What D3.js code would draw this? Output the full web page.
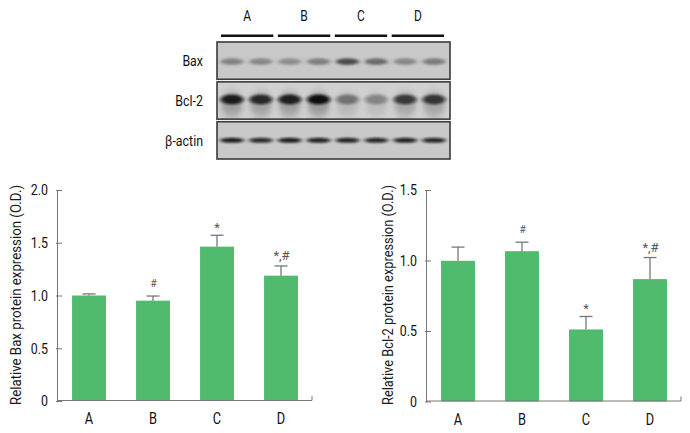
<!DOCTYPE html>
<html><head><meta charset="utf-8">
<script src="https://cdn.jsdelivr.net/npm/d3@7"></script>
<style>
html,body{margin:0;padding:0;background:#fff;}
svg text{font-family:Roboto,"Liberation Sans",sans-serif;}
</style></head>
<body>
<svg id="chart" width="690" height="433"></svg>
<script>
// ---- data ----
const groups = ["A", "B", "C", "D"];
const baxValues = [1.0, 0.951, 1.463, 1.188];
const baxErrors = [0.015, 0.044, 0.108, 0.092];
const baxMarks = ["", "#", "*", "*,#"];
const bcl2Values = [0.998, 1.066, 0.511, 0.868];
const bcl2Errors = [0.097, 0.064, 0.092, 0.153];
const bcl2Marks = ["", "#", "*", "*,#"];
const baxTicks = [0, 0.5, 1.0, 1.5, 2.0];
const bcl2Ticks = [0, 0.5, 1.0, 1.5];
const baxTitle = "Relative Bax protein expression (O.D.)";
const bcl2Title = "Relative Bcl-2 protein expression (O.D.)";
// western blot: lane band intensities (0..1)
const blotRows = ["Bax", "Bcl-2", "β-actin"];
const lanes = [0, 1, 2, 3, 4, 5, 6, 7];
const baxBands = [0.42, 0.4, 0.36, 0.46, 0.78, 0.58, 0.4, 0.48];
const bcl2Bands = [0.9, 0.82, 0.88, 0.98, 0.42, 0.32, 0.72, 0.75];
const actinBands = [0.9, 0.84, 0.9, 0.88, 0.87, 0.86, 0.88, 0.86];

const COND = 0.8; // horizontal condensing of the font
function condense(sel, k) {
  sel.each(function() {
    const len = this.getComputedTextLength();
    if (len > 0) d3.select(this).attr("textLength", len * (k || COND)).attr("lengthAdjust", "spacingAndGlyphs");
  });
}

const svg = d3.select("#chart");
const defs = svg.append("defs");
const f = defs.append("filter").attr("id","blur").attr("x","-50%").attr("y","-100%").attr("width","200%").attr("height","300%");
f.append("feGaussianBlur").attr("stdDeviation","2.2 1.3");
const f2 = defs.append("filter").attr("id","blur2").attr("x","-50%").attr("y","-100%").attr("width","200%").attr("height","300%");
f2.append("feGaussianBlur").attr("stdDeviation","2.5 4");

// ---- blot ----
const laneX = d3.scalePoint().domain(lanes).range([232, 434]);
const groupX = d3.scaleBand().domain(groups).range([221, 444]).paddingInner(0.08);
const rowY = d3.scaleBand().domain(blotRows).range([42, 159]).paddingInner(0.065);
const panelX0 = 217, panelX1 = 450;

svg.selectAll("text.grp").data(groups).join("text").attr("class","grp")
  .attr("x", d => groupX(d) + groupX.bandwidth()/2).attr("y", 20.5)
  .attr("text-anchor","middle").attr("font-size", 15).attr("fill","#111").text(d => d)
  .call(condense);
svg.selectAll("line.grp").data(groups).join("line").attr("class","grp")
  .attr("x1", d => groupX(d)).attr("x2", d => groupX(d) + groupX.bandwidth())
  .attr("y1", 35.7).attr("y2", 35.7).attr("stroke","#111").attr("stroke-width", 2.5);

const bandData = {"Bax": baxBands, "Bcl-2": bcl2Bands, "β-actin": actinBands};
blotRows.forEach(r => {
  const y0 = rowY(r), h = rowY.bandwidth();
  const g = svg.append("g");
  const clipId = "clip" + blotRows.indexOf(r);
  defs.append("clipPath").attr("id", clipId).append("rect")
    .attr("x", panelX0).attr("y", y0).attr("width", panelX1 - panelX0).attr("height", h);
  g.append("rect").attr("x", panelX0).attr("y", y0).attr("width", panelX1 - panelX0).attr("height", h)
    .attr("fill", r === "Bcl-2" ? "#d0d0d0" : "#c8c8c8");
  const gb = g.append("g").attr("clip-path", `url(#${clipId})`);
  const cy = y0 + h/2;
  bandData[r].forEach((v, i) => {
    const cx = laneX(i);
    if (r === "Bcl-2") {
      gb.append("ellipse").attr("cx", cx).attr("cy", cy + 4).attr("rx", 11).attr("ry", 12)
        .attr("fill", "#555").attr("opacity", v*0.45).attr("filter","url(#blur2)");
      gb.append("ellipse").attr("cx", cx).attr("cy", cy - 1).attr("rx", 11.5).attr("ry", 5)
        .attr("fill", "#111").attr("opacity", v).attr("filter","url(#blur)");
    } else if (r === "Bax") {
      gb.append("ellipse").attr("cx", cx).attr("cy", cy + 1).attr("rx", 11.5).attr("ry", 3.4)
        .attr("fill", "#2a2a2a").attr("opacity", v).attr("filter","url(#blur)");
    } else {
      gb.append("ellipse").attr("cx", cx).attr("cy", cy).attr("rx", 12).attr("ry", 2.5)
        .attr("fill", "#0a0a0a").attr("opacity", v).attr("filter","url(#blur)");
    }
  });
  g.append("rect").attr("x", panelX0).attr("y", y0).attr("width", panelX1 - panelX0).attr("height", h)
    .attr("fill","none").attr("stroke","#3a3a3a").attr("stroke-width", 1.6);
  svg.append("text").attr("x", 203).attr("y", cy + 5.5).attr("text-anchor","end")
    .attr("font-size", 15.5).attr("fill","#111").text(r).call(condense);
});

// ---- bar charts ----
function barChart(opts) {
  const {x0, x1, yTop, yBase, max, values, errors, marks, ticks, title, titleX} = opts;
  const x = d3.scaleBand().domain(groups).range([x0, x1]).paddingInner(0.47).paddingOuter(0.235);
  const y = d3.scaleLinear().domain([0, max]).range([yBase, yTop]);
  const g = svg.append("g");
  // bars
  g.selectAll("rect.bar").data(values).join("rect").attr("class","bar")
    .attr("x", (d,i) => x(groups[i])).attr("width", x.bandwidth())
    .attr("y", d => y(d)).attr("height", d => yBase - y(d)).attr("fill", "#50bb6f");
  // error bars
  const eb = g.selectAll("g.eb").data(values).join("g").attr("class","eb");
  eb.append("line").attr("x1", (d,i) => x(groups[i]) + x.bandwidth()/2).attr("x2", (d,i) => x(groups[i]) + x.bandwidth()/2)
    .attr("y1", d => y(d)).attr("y2", (d,i) => y(d + errors[i])).attr("stroke", "#777").attr("stroke-width", 1.3);
  eb.append("line").attr("x1", (d,i) => x(groups[i]) + x.bandwidth()/2 - 6.5).attr("x2", (d,i) => x(groups[i]) + x.bandwidth()/2 + 6.5)
    .attr("y1", (d,i) => y(d + errors[i])).attr("y2", (d,i) => y(d + errors[i])).attr("stroke", "#777").attr("stroke-width", 1.3);
  // marks
  g.selectAll("text.mark").data(values).join("text").attr("class","mark")
    .attr("x", (d,i) => x(groups[i]) + x.bandwidth()/2 + (marks[i] === "*" ? 0 : 0.5))
    .attr("y", (d,i) => y(d + errors[i]) - (marks[i] === "#" ? 9 : (marks[i] === "*" ? 3 : 6)))
    .attr("text-anchor","middle").attr("font-size", (d,i) => marks[i] === "#" ? 10 : 13).attr("fill", "#555")
    .text((d,i) => marks[i]);
  // y axis
  const ya = d3.axisLeft(y).tickValues(ticks).tickSizeInner(-5).tickSizeOuter(0).tickPadding(9)
    .tickFormat(d => d === 0 ? "0" : d3.format(".1f")(d));
  const yg = g.append("g").attr("transform", `translate(${x0},0)`).call(ya);
  yg.select(".domain").attr("stroke","#777");
  yg.selectAll(".tick line").attr("stroke","#777").attr("x1", -1);
  yg.selectAll(".tick text").attr("font-size", 15.5).attr("fill","#111").attr("font-family", null).call(condense);
  // x axis
  const xa = d3.axisBottom(x).tickSize(0).tickPadding(12);
  const xg = g.append("g").attr("transform", `translate(0,${yBase})`).call(xa);
  xg.select(".domain").attr("stroke","#777").attr("d", `M${x0},-0.5H${x1 - 1}V-5`);
  xg.selectAll(".tick text").attr("font-size", 16).attr("fill","#111").attr("font-family", null).call(condense);
  // title
  g.append("text").attr("transform", `translate(${titleX},295) rotate(-90)`)
    .attr("text-anchor","middle").attr("font-size", 15).attr("fill","#1a1a1a").text(title)
    .attr("textLength", 220).attr("lengthAdjust", "spacingAndGlyphs");
}

barChart({x0: 57, x1: 313, yTop: 190, yBase: 401, max: 2.0, values: baxValues, errors: baxErrors,
  marks: baxMarks, ticks: baxTicks, title: baxTitle, titleX: 20.5});
barChart({x0: 426, x1: 682, yTop: 190, yBase: 401.5, max: 1.5, values: bcl2Values, errors: bcl2Errors,
  marks: bcl2Marks, ticks: bcl2Ticks, title: bcl2Title, titleX: 393});
</script>
</body></html>
